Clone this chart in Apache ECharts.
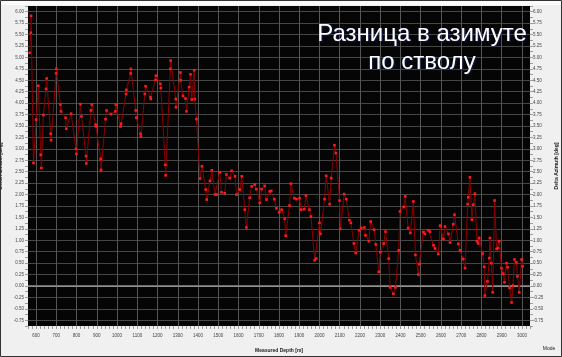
<!DOCTYPE html>
<html><head><meta charset="utf-8">
<script src="https://cdn.jsdelivr.net/npm/echarts@6/dist/echarts.min.js"></script>
<style>html,body{margin:0;padding:0;background:#f0f0f0;}#c{width:562px;height:357px;}</style>
</head><body><div id="c"></div>
<script>
// Measured depth [m]
const depths = [
  568,574,575,587,600,611,623,626,636,649,
  652,672,674,699,700,720,723,746,749,773,
  797,799,819,824,847,848,871,875,894,896,
  919,921,943,948,970,992,994,1017,1020,1044,
  1046,1067,1068,1092,1095,1116,1118,1137,1141,1165,
  1167,1190,1192,1214,1216,1238,1240,1263,1265,1290,
  1291,1313,1314,1326,1338,1343,1356,1363,1369,1381,
  1384,1392,1410,1419,1438,1443,1459,1468,1484,1493,
  1507,1516,1532,1540,1557,1566,1583,1590,1606,1616,
  1631,1639,1655,1665,1680,1688,1705,1714,1729,1738,
  1754,1762,1777,1787,1801,1813,1828,1833,1852,1859,
  1876,1886,1902,1910,1925,1933,1950,1958,1976,1984,
  2000,2005,2025,2033,2050,2058,2074,2081,2099,2103,
  2122,2132,2148,2155,2170,2179,2196,2206,2222,2227,
  2244,2253,2270,2278,2293,2301,2317,2326,2342,2349,
  2365,2375,2391,2398,2416,2424,2438,2449,2464,2474,
  2488,2493,2513,2521,2538,2546,2563,2571,2587,2596,
  2612,2620,2637,2645,2661,2667,2686,2694,2710,2719,
  2732,2735,2743,2753,2760,2768,2778,2784,2789,2806,
  2814,2817,2830,2839,2842,2849,2856,2865,2875,2882,
  2888,2899,2908,2914,2924,2929,2939,2949,2956,2963,
  2973,2978,2987,2998,3003
];
// Delta azimuth [deg]
const deltaAzimuth = [
  5.10,5.54,5.91,2.69,3.64,4.38,2.87,2.58,3.74,4.31,
  4.54,3.33,3.19,4.65,4.75,3.97,3.82,3.68,3.44,3.77,
  3.00,2.89,3.98,3.71,2.84,2.68,3.84,3.97,3.53,3.49,
  2.78,2.54,3.65,3.84,3.76,3.82,3.97,3.49,3.55,4.20,
  4.29,4.65,4.75,3.84,3.68,3.33,3.27,4.20,4.37,4.13,
  4.09,4.51,4.60,4.42,4.33,2.65,2.42,4.75,4.93,4.09,
  3.91,4.67,4.50,4.16,4.10,3.82,4.35,4.63,4.08,4.72,
  4.09,3.65,2.35,2.62,2.11,1.89,2.30,2.53,2.00,2.00,
  2.49,2.05,2.03,2.44,2.36,2.52,2.40,2.00,2.11,2.40,
  1.67,1.28,1.93,2.18,2.22,2.12,1.82,2.12,2.19,1.89,
  2.07,2.08,1.90,1.70,1.61,1.67,1.47,1.10,1.76,2.24,
  1.92,1.90,1.92,1.67,1.68,1.98,1.67,1.52,0.56,0.60,
  1.38,1.14,1.90,2.41,1.79,2.36,3.08,2.91,1.87,1.25,
  2.01,1.90,1.44,1.38,0.93,0.72,1.22,1.27,1.28,1.11,
  0.98,1.41,1.23,0.91,0.31,0.74,0.93,1.19,0.60,-0.03,
  -0.17,-0.03,0.78,1.63,1.73,1.96,1.27,1.16,1.85,0.68,
  0.25,0.48,1.18,1.14,1.22,1.19,0.89,0.82,0.70,1.32,
  1.03,1.30,1.14,0.95,1.35,1.56,0.92,0.78,0.59,0.39,
  1.79,1.94,2.38,1.45,1.78,2.02,0.98,0.93,1.05,0.71,
  0.42,-0.21,0.10,0.61,1.05,0.50,-0.14,1.87,0.81,0.83,
  0.98,0.39,0.27,0.08,0.50,0.41,-0.04,-0.36,0.01,0.58,
  0.52,0.21,-0.14,0.58,0.43
];
// Axis ranges and tick labels
const xRange = [560, 3040], xStep = 20;
const xTickLabels = [600,700,800,900,1000,1100,1200,1300,1400,1500,1600,1700,1800,1900,2000,2100,2200,2300,2400,2500,2600,2700,2800,2900,3000];
const yRange = [-0.875, 6.125], yStep = 0.125;
const yTickLabels = ['-0.75','-0.50','-0.25','0.00','0.25','0.50','0.75','1.00','1.25','1.50','1.75','2.00','2.25','2.50','2.75','3.00','3.25','3.50','3.75','4.00','4.25','4.50','4.75','5.00','5.25','5.50','5.75','6.00'];
const titleLines = ['Разница в азимуте', 'по стволу'];
const axisNames = {x: 'Measured Depth [m]', y: 'Delta Azimuth [deg]'};

const font = '"Liberation Sans", Arial, sans-serif';
const xLabelSet = new Set(xTickLabels.map(String));
const yLabelSet = new Set(yTickLabels);

// splitLine colors per tick (only labelled ticks get a visible line)
const xLineColors = [];
for (let v = xRange[0]; v <= xRange[1] + 1e-9; v += xStep) {
  xLineColors.push(xLabelSet.has(String(Math.round(v))) ? '#555' : 'rgba(0,0,0,0)');
}
const yLineColors = [];
const nY = Math.round((yRange[1] - yRange[0]) / yStep);
for (let i = 0; i <= nY; i++) {
  const v = yRange[0] + i * yStep;
  const s = (Math.abs(v) < 1e-9 ? 0 : v).toFixed(2);
  yLineColors.push(s === '0.00' ? '#9a9a9a' : (yLabelSet.has(s) ? '#474747' : 'rgba(0,0,0,0)'));
}
const fmtX = v => xLabelSet.has(String(Math.round(v))) ? String(Math.round(v)) : '';
const fmtY = v => { const s = (Math.abs(v) < 1e-9 ? 0 : v).toFixed(2); return yLabelSet.has(s) && Math.abs(v*4 - Math.round(v*4)) < 1e-6 ? s : ''; };

const chart = echarts.init(document.getElementById('c'), null, {renderer: 'canvas'});
const yAxisCommon = {
  type: 'value', min: yRange[0], max: yRange[1], interval: yStep,
  name: axisNames.y, nameLocation: 'middle', nameRotate: 90,
  nameTextStyle: {fontFamily: font, fontSize: 5, fontWeight: 'bold', color: '#222'},
  axisLine: {show: false, onZero: false},
  axisTick: {show: true, length: 3, lineStyle: {color: '#666', width: 0.6}},
  axisLabel: {formatter: fmtY, fontFamily: font, fontSize: 4.5, color: '#444', margin: 4, showMinLabel: true, showMaxLabel: true},
};
chart.setOption({
  animation: false,
  backgroundColor: '#f0f0f0',
  grid: {left: 28, right: 32, top: 6, bottom: 31, show: true, backgroundColor: '#050505', borderWidth: 0, containLabel: false, outerBoundsMode: 'none'},
  xAxis: {
    type: 'value', min: xRange[0], max: xRange[1], interval: xStep, position: 'bottom',
    name: axisNames.x, nameLocation: 'middle', nameGap: 22,
    nameTextStyle: {fontFamily: font, fontSize: 5, fontWeight: 'bold', color: '#222'},
    axisLine: {show: false, onZero: false},
    axisTick: {show: true, length: 3, lineStyle: {color: '#666', width: 0.6}},
    axisLabel: {formatter: fmtX, fontFamily: font, fontSize: 4.5, color: '#444', margin: 7, showMinLabel: true, showMaxLabel: true},
    splitLine: {show: true, lineStyle: {color: xLineColors, width: 1}}
  },
  yAxis: [
    Object.assign({}, yAxisCommon, {position: 'left', nameGap: 22,
      splitLine: {show: true, lineStyle: {color: yLineColors, width: 1, type: 'solid'}}}),
    Object.assign({}, yAxisCommon, {position: 'right', nameGap: 22,
      axisLabel: Object.assign({}, yAxisCommon.axisLabel, {margin: 3}),
      splitLine: {show: false}})
  ],
  graphic: [
    {type: 'rect', z: 0, silent: true, shape: {x: 0, y: 0, width: 562, height: 5}, style: {fill: '#fafafa'}},
    {type: 'text', z: 100, style: {text: titleLines.join('\n'), x: 422, y: 20, textAlign: 'center', textVerticalAlign: 'top',
      fill: '#ffffff', font: '24px ' + font, lineHeight: 28,
      textShadowColor: 'rgba(20,30,90,0.9)', textShadowBlur: 2, textShadowOffsetX: 1, textShadowOffsetY: 1}},
    {type: 'text', z: 100, style: {text: 'Mode', x: 549, y: 349, textAlign: 'center', textVerticalAlign: 'middle', fill: '#222', font: '5px ' + font}},
    {type: 'rect', z: 100, silent: true, shape: {x: 0.5, y: 0.5, width: 561, height: 356}, style: {fill: 'none', stroke: '#333', lineWidth: 1}}
  ],
  series: [{
    type: 'line',
    data: depths.map((d, i) => [d, deltaAzimuth[i]]),
    symbol: 'rect', symbolSize: 2.6, showAllSymbol: true,
    lineStyle: {color: '#8a0000', width: 1},
    itemStyle: {color: '#ff1a1a'},
    emphasis: {disabled: true},
    markLine: {silent: true, symbol: ['none', 'none'], label: {show: false}, z: 1,
      lineStyle: {color: '#8e8e8e', width: 1.5, type: 'solid'},
      data: [{yAxis: 0, lineStyle: {color: '#8e8e8e', width: 1.5, type: 'solid'}}]}
  }]
});
</script></body></html>
